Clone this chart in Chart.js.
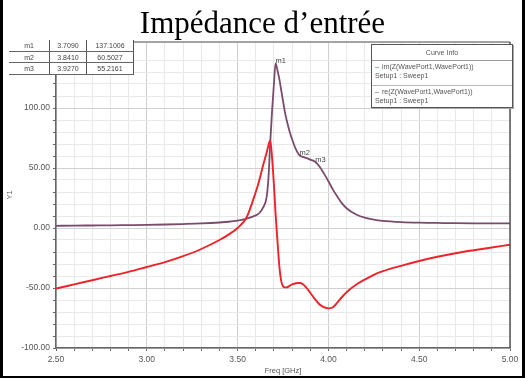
<!DOCTYPE html>
<html>
<head>
<meta charset="utf-8">
<script src="https://cdn.jsdelivr.net/npm/chart.js@4/dist/chart.umd.min.js"></script>
<style>
  html, body { margin: 0; padding: 0; background: #fff; }
  #wrap { position: relative; width: 525px; height: 378px; overflow: hidden; background: #fff; }
  #c { position: absolute; left: 0; top: 0; }
  #frame { position: absolute; left: 0; top: 0; width: 519px; height: 376px;
           border-left: 3px solid #000; border-right: 3px solid #000; border-bottom: 2px solid #000; pointer-events: none; }
  #title { position: absolute; left: 0; top: 7px; width: 525px; text-align: center;
           font-family: "Liberation Serif", "Times New Roman", serif; font-size: 31px; line-height: 31px; color: #000; }
  #mtable { position: absolute; left: 9px; top: 40px; border-collapse: collapse; background: #fff;
            font-family: "Liberation Sans", Arial, sans-serif; font-size: 7px; color: #444;
            will-change: transform; -webkit-font-smoothing: antialiased; }
  #mtable td { height: 10.7px; padding: 0; text-align: center; border-bottom: 1px solid #666; border-right: 1px solid #555; }
  #mtable td.c0 { width: 40px; }
  #mtable td.c1 { width: 36px; }
  #mtable td.c2 { width: 46px; }
  #legend { position: absolute; left: 371px; top: 44px; width: 140px; height: 62px; background: #fff;
            border: 1px solid #555; box-shadow: 1px 1px 0 #aaa;
            font-family: "Liberation Sans", Arial, sans-serif; font-size: 7px; color: #555;
            will-change: transform; -webkit-font-smoothing: antialiased; }
  #legend .hd { height: 15px; line-height: 16px; text-align: center; border-bottom: 1px solid #999; }
  #legend .en { height: 22px; padding-left: 3px; line-height: 8.5px; padding-top: 2px; }
  #legend .en + .en { border-top: 1px solid #bbb; }
  #legend .sw { display: inline-block; width: 4px; height: 0; border-top: 1px solid; vertical-align: middle; margin-right: 3px; }
</style>
</head>
<body>
<div id="wrap">
  <canvas id="c" width="525" height="378"></canvas>
  <div id="title">Impédance d’entrée</div>
  <table id="mtable"></table>
  <div id="legend"></div>
  <div id="frame"></div>
</div>
<script>
// ---- Data ----
const freqs = [2.5,2.6,2.7,2.8,2.9,3.0,3.1,3.2,3.3,3.4,
  3.45,3.5,3.55,3.6,
  3.62,3.64,3.66,3.67,3.68,3.69,3.70,3.709,
  3.72,3.73,3.74,3.75,3.76,3.77,3.78,3.79,3.80,
  3.82,3.841,3.86,3.88,3.90,3.927,
  3.95,3.975,4.0,4.025,4.05,4.075,4.1,
  4.15,4.2,4.25,4.3,
  4.4,4.5,4.6,4.7,4.8,4.9,5.0];

const reZ = [1.8,2.0,2.1,2.2,2.4,2.6,2.9,3.3,3.8,4.6,
  5.2,6.2,7.8,10.5,
  12.5,17,26,42,72,98,120,137.1,
  131,124,115,106,97,90,84,78.5,74,
  66,60.5,59.3,58.2,57,55.2,
  51.5,45.5,39,32,26,20.5,16.5,
  11.5,8.6,6.9,5.9,
  4.9,4.4,4.2,4.0,3.9,3.9,3.9];

const imZ = [-50.5,-47,-43.5,-40,-36.5,-32.5,-28.5,-23.5,-17.5,-10,
  -5.5,0,9,30,
  40,52,63,69,73,58,36,12,
  -12,-32,-44,-48.5,-49.5,-49.5,-48.8,-47.8,-47,
  -46,-45.8,-46.8,-50,-54,-59.5,
  -63.5,-66,-67,-66,-62,-57.5,-53.5,
  -47.5,-43,-39,-36,
  -31.5,-27.5,-24,-21,-18.5,-16.2,-14];

const markerNames  = ['m1', 'm2', 'm3'];
const markerFreqs  = ['3.7090', '3.8410', '3.9270'];
const markerValues = ['137.1006', '60.5027', '55.2161'];

const seriesNames = ['im(Z(WavePort1,WavePort1))', 're(Z(WavePort1,WavePort1))'];
const seriesSetup = ['Setup1 : Sweep1', 'Setup1 : Sweep1'];
const seriesColors = ['#ee2229', '#7a4c6c'];

const xTitle = 'Freq [GHz]';
const yTitle = 'Y1';

// ---- Marker table ----
const tbl = document.getElementById('mtable');
markerNames.forEach((n, i) => {
  const tr = document.createElement('tr');
  [n, markerFreqs[i], markerValues[i]].forEach((t, j) => {
    const td = document.createElement('td');
    td.className = 'c' + j;
    td.textContent = t;
    tr.appendChild(td);
  });
  tbl.appendChild(tr);
});

// ---- Curve info box ----
const lg = document.getElementById('legend');
const hd = document.createElement('div'); hd.className = 'hd'; hd.textContent = 'Curve Info'; lg.appendChild(hd);
seriesNames.forEach((n, i) => {
  const en = document.createElement('div'); en.className = 'en';
  const sw = document.createElement('span'); sw.className = 'sw'; sw.style.borderColor = seriesColors[i]; sw.style.opacity = '0.55';
  en.appendChild(sw);
  en.appendChild(document.createTextNode(n));
  en.appendChild(document.createElement('br'));
  en.appendChild(document.createTextNode(seriesSetup[i]));
  lg.appendChild(en);
});

// ---- Chart ----
const isMajorX = v => Math.abs(v * 2 - Math.round(v * 2)) < 1e-6;
const isMajorY = v => Math.abs(v / 50 - Math.round(v / 50)) < 1e-6;

const markerPlugin = {
  id: 'markers',
  afterDatasetsDraw(chart) {
    const { ctx, scales } = chart;
    ctx.save();
    ctx.font = '7.5px "Liberation Sans", Arial, sans-serif';
    ctx.fillStyle = '#444';
    ctx.textBaseline = 'alphabetic';
    markerNames.forEach((n, i) => {
      const px = scales.x.getPixelForValue(parseFloat(markerFreqs[i]));
      const py = scales.y.getPixelForValue(parseFloat(markerValues[i]));
      ctx.fillText(n, px, py);
    });
    // plot frame (top and right)
    const a = chart.chartArea;
    ctx.strokeStyle = '#888';
    ctx.lineWidth = 1.5;
    ctx.beginPath();
    ctx.moveTo(a.left, a.top); ctx.lineTo(a.right, a.top);
    ctx.stroke();
    ctx.strokeStyle = '#555';
    ctx.beginPath();
    ctx.moveTo(a.right, a.top); ctx.lineTo(a.right, a.bottom);
    ctx.stroke();
    ctx.restore();
  }
};

new Chart(document.getElementById('c'), {
  type: 'line',
  data: {
    datasets: [
      { label: seriesNames[0], data: freqs.map((f, i) => ({ x: f, y: imZ[i] })),
        borderColor: seriesColors[0], borderWidth: 1.9, pointRadius: 0, cubicInterpolationMode: 'monotone', order: 0 },
      { label: seriesNames[1], data: freqs.map((f, i) => ({ x: f, y: reZ[i] })),
        borderColor: seriesColors[1], borderWidth: 1.8, pointRadius: 0, cubicInterpolationMode: 'monotone', order: 1 }
    ]
  },
  options: {
    responsive: false, animation: false, devicePixelRatio: 1,
    layout: { padding: { left: 0, right: 15, top: 42, bottom: 0 } },
    plugins: { legend: { display: false }, tooltip: { enabled: false }, title: { display: false } },
    scales: {
      x: {
        type: 'linear', min: 2.5, max: 5.0,
        afterFit(s) { s.height = 30; },
        ticks: {
          stepSize: 0.1, autoSkip: false, maxRotation: 0, padding: 4, color: '#555',
          font: { size: 8.5, family: '"Liberation Sans", Arial, sans-serif' },
          callback: v => isMajorX(v) ? v.toFixed(2) : ''
        },
        grid: {
          color: c => isMajorX(c.tick.value) ? '#cfcfcf' : '#e9e9e9',
          tickColor: '#666', tickLength: 3, drawTicks: true, lineWidth: 1
        },
        border: { color: '#666', width: 1.5 },
        title: { display: true, text: xTitle, color: '#555', padding: { top: 0, bottom: 2.5 },
                 font: { size: 7.5, family: '"Liberation Sans", Arial, sans-serif' } }
      },
      y: {
        type: 'linear', min: -100, max: 155,
        afterFit(s) { s.width = 56; },
        ticks: {
          stepSize: 10, autoSkip: false, padding: 3, color: '#555',
          font: { size: 8.5, family: '"Liberation Sans", Arial, sans-serif' },
          callback: v => isMajorY(v) ? v.toFixed(2) : ''
        },
        grid: {
          color: c => isMajorY(c.tick.value) ? '#cfcfcf' : '#e9e9e9',
          tickColor: '#666', tickLength: 3, drawTicks: true, lineWidth: 1
        },
        border: { color: '#666', width: 1.5 },
        title: { display: true, text: yTitle, color: '#555', padding: { top: 5.5, bottom: 0 },
                 font: { size: 7.5, family: '"Liberation Sans", Arial, sans-serif' } }
      }
    }
  },
  plugins: [markerPlugin]
});
</script>
</body>
</html>
